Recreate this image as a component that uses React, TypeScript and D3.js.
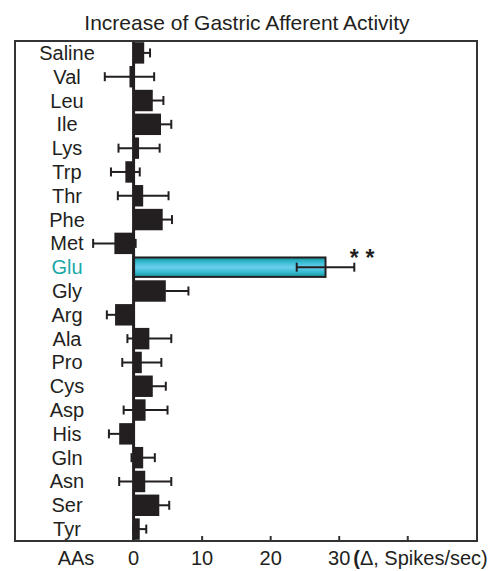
import * as d3 from "d3";

const categories = [
  "Saline", "Val", "Leu", "Ile", "Lys", "Trp", "Thr", "Phe", "Met", "Glu", "Gly",
  "Arg", "Ala", "Pro", "Cys", "Asp", "His", "Gln", "Asn", "Ser", "Tyr",
];
const means = [
  1.55, -0.6, 2.8, 4.0, 0.8, -1.2, 1.4, 4.25, -2.8, 28.0, 4.7,
  -2.7, 2.3, 1.2, 2.8, 1.75, -2.1, 1.4, 1.7, 3.75, 0.9,
];
const sems = [
  0.85, 3.6, 1.55, 1.5, 3.0, 2.1, 3.7, 1.35, 3.1, 4.2, 3.3,
  1.2, 3.2, 2.85, 1.9, 3.2, 1.5, 1.7, 3.8, 1.45, 0.95,
];
const tickValues = [0, 10, 20, 30, 40];
const tickLabels = ["0", "10", "20", "30", ""];
const highlight = "Glu";
const significance = ["*", "*"];

const W = 500;
const H = 571;
const FRAME = { left: 15, right: 477, top: 41, bottom: 541 };
const INK = "#231f20";
const FONT = "'Liberation Sans', Arial, Helvetica, sans-serif";

export default function App() {
  const x = d3.scaleLinear().domain([-17.3, 50.1]).range([FRAME.left, FRAME.right]);
  const y = d3
    .scaleBand<string>()
    .domain(categories)
    .range([FRAME.top, FRAME.bottom])
    .paddingInner(0.1)
    .paddingOuter(0.05);
  const bw = y.bandwidth();
  const x0 = x(0);
  const labelX = 67;

  const gluIdx = categories.indexOf(highlight);
  const starX = x(means[gluIdx] + sems[gluIdx]);
  const starY = (y(highlight) || 0) - 2;

  return (
    <div style={{ position: "absolute", left: 0, top: 0 }}>
      <svg width={W} height={H} style={{ display: "block", fontFamily: FONT }}>
        <defs>
          <linearGradient id="glu-grad" x1="0" y1="0" x2="0" y2="1">
            <stop offset="0%" stopColor="#17939c" />
            <stop offset="25%" stopColor="#38bcd2" />
            <stop offset="50%" stopColor="#6ccff0" />
            <stop offset="75%" stopColor="#38bcd2" />
            <stop offset="100%" stopColor="#17939c" />
          </linearGradient>
        </defs>

        {/* title */}
        <text x={(FRAME.left + FRAME.right) / 2 + 1} y={30} textAnchor="middle" fontSize={21} fill={INK}>
          Increase of Gastric Afferent Activity
        </text>

        {/* bars */}
        {categories.map((c, i) => {
          const v = means[i];
          const yy = y(c) || 0;
          const isHi = c === highlight;
          return (
            <rect
              key={"bar-" + c}
              x={Math.min(x(v), x0)}
              y={isHi ? yy + 1 : yy}
              width={Math.abs(x(v) - x0)}
              height={isHi ? bw - 2 : bw}
              fill={isHi ? "url(#glu-grad)" : INK}
              stroke={isHi ? INK : "none"}
              strokeWidth={isHi ? 2 : 0}
            />
          );
        })}

        {/* error bars */}
        {categories.map((c, i) => {
          const cy = (y(c) || 0) + bw / 2;
          const lo = x(means[i] - sems[i]);
          const hi = x(means[i] + sems[i]);
          return (
            <g key={"err-" + c} stroke={INK} strokeWidth={2}>
              <line x1={lo} x2={hi} y1={cy} y2={cy} />
              <line x1={lo} x2={lo} y1={cy - 4.5} y2={cy + 4.5} />
              <line x1={hi} x2={hi} y1={cy - 4.5} y2={cy + 4.5} />
            </g>
          );
        })}

        {/* zero line */}
        <line x1={x0} x2={x0} y1={FRAME.top} y2={FRAME.bottom} stroke={INK} strokeWidth={3} />

        {/* frame */}
        <rect
          x={FRAME.left}
          y={FRAME.top}
          width={FRAME.right - FRAME.left}
          height={FRAME.bottom - FRAME.top}
          fill="none"
          stroke="#333"
          strokeWidth={2}
        />

        {/* category labels */}
        {categories.map((c) => (
          <text
            key={"lab-" + c}
            x={labelX}
            y={(y(c) || 0) + bw / 2 + 7}
            textAnchor="middle"
            fontSize={20}
            fill={c === highlight ? "#1aa8a8" : INK}
          >
            {c}
          </text>
        ))}

        {/* significance */}
        {significance.map((s, i) => (
          <text
            key={"sig-" + i}
            x={starX + i * 15.6}
            y={starY + 12}
            textAnchor="middle"
            fontSize={23}
            fontWeight="bold"
            fill={INK}
          >
            {s}
          </text>
        ))}

        {/* x ticks */}
        {tickValues.map((t, i) => (
          <g key={"tick-" + t}>
            {t !== 0 && (
              <line x1={x(t)} x2={x(t)} y1={FRAME.bottom} y2={FRAME.bottom - 5} stroke="#333" strokeWidth={2} />
            )}
            {tickLabels[i] && (
              <text x={x(t)} y={565} textAnchor="middle" fontSize={20} fill={INK}>
                {tickLabels[i]}
              </text>
            )}
          </g>
        ))}
        <text x={labelX + 9} y={565} textAnchor="middle" fontSize={20} fill={INK}>
          AAs
        </text>
        <text x={x(30) + 14} y={565} fontSize={20} fill={INK}>
          <tspan fontWeight="bold">(</tspan>Δ, Spikes/sec)
        </text>
      </svg>
    </div>
  );
}
